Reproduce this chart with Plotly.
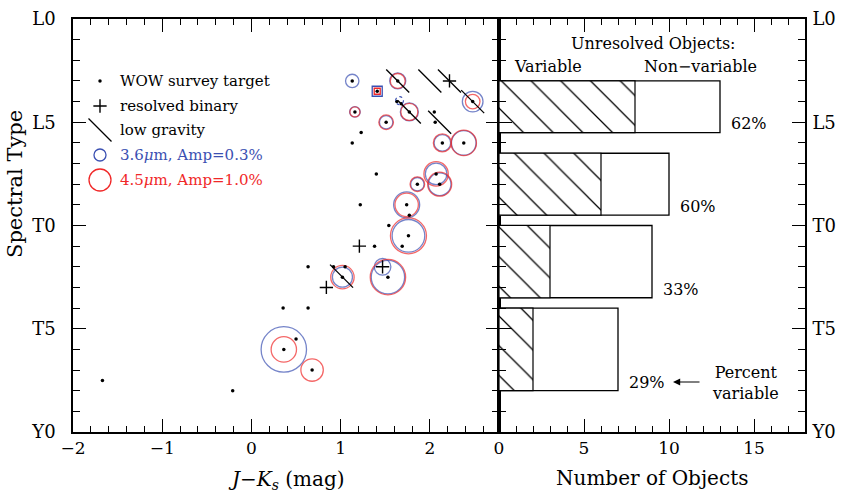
import numpy as np
import plotly.graph_objects as go

W, H = 844, 493

# ---------------- data ----------------
# spectral type as a number: L0=0, L5=5, T0=10, T5=15, Y0=20
spt_tickvals = [0, 5, 10, 15, 20]
spt_ticktext = ["L0", "L5", "T0", "T5", "Y0"]

# every WOW survey target (dots)
target_jk = [1.13, 1.41, 1.64, 2.48, 1.63, 1.68, 1.77, 1.16, 1.51, 2.05, 2.06, 1.23,
             1.13, 2.14, 2.38, 1.40, 2.07, 2.11, 1.86, 1.22, 1.74, 1.77, 1.54, 1.76,
             1.38, 1.69, 0.635, 0.92, 1.05, 1.02, 1.53, 0.355, 0.635, 0.50, 0.363,
             0.68, -1.67, -0.21]
target_spt = [3.0, 3.5, 3.0, 4.0, 4.0, 4.1, 4.5, 4.5, 5.0, 4.5, 5.0, 5.5,
              6.0, 6.0, 6.0, 7.5, 7.5, 8.0, 8.0, 9.0, 9.0, 9.5, 10.0, 10.5,
              11.0, 11.0, 12.0, 12.0, 12.0, 12.5, 12.5, 14.0, 14.0, 15.5, 16.0,
              17.0, 17.5, 18.0]

# variable objects: amplitudes (%) at 3.6 and 4.5 micron (None = not variable)
var_jk = [1.13, 1.64, 2.48, 1.77, 1.16, 1.51, 2.14, 2.38, 2.07, 2.11, 1.86, 1.74,
          1.76, 1.02, 1.47, 1.53, 0.363, 0.68]
var_spt = [3.0, 3.0, 4.0, 4.5, 4.5, 5.0, 6.0, 6.0, 7.5, 8.0, 8.0, 9.0,
           10.5, 12.5, 12.0, 12.5, 16.0, 17.0]
amp36 = [0.37, 0.53, 0.88, 0.67, 0.23, 0.37, 0.57, 1.25, 0.96, 1.06, 0.37, 1.40,
         2.20, 0.83, 0.57, 2.30, 4.26, None]
amp45 = [None, 0.46, 0.44, 0.60, 0.21, 0.44, 0.67, 1.33, 1.23, 1.19, 0.44, 1.13,
         2.68, 1.13, None, 2.59, 1.33, 1.04]

# tentative 3.6 micron detection (dotted circle)
tentative_jk = [1.66]
tentative_spt = [3.95]
tentative_amp36 = [0.13]

# object marked with squares
square_jk = [1.41]
square_spt = [3.5]

# resolved binaries and low-gravity objects
binary_jk = [2.22, 1.21, 1.47, 0.84]
binary_spt = [3.0, 11.0, 12.0, 13.0]
lowg_jk = [1.64, 2.00, 2.22, 2.48, 1.77, 2.11, 1.01]
lowg_spt = [3.0, 3.0, 3.0, 4.0, 4.5, 5.0, 12.45]

# histogram of unresolved objects
bin_top = [3.0, 6.5, 10.0, 14.0]
bin_bottom = [5.5, 9.5, 13.5, 18.0]
n_variable = [8, 6, 3, 2]
n_total = [13, 10, 9, 7]

legend_labels = ["WOW survey target", "resolved binary", "low gravity",
                 "3.6<i>μ</i>m, Amp=0.3%", "4.5<i>μ</i>m, Amp=1.0%"]
legend_amps = [0.3, 1.0]

# ---------------- styling ----------------
BLUE = "#3b50b2"
RED = "#f02828"
FONT = "DejaVu Serif"
AMP_SCALE = 22.0  # marker diameter (px) for 1% amplitude


def diam(a):
    return AMP_SCALE * np.sqrt(a)


# panel geometry (px)
LX0, LX1 = 73, 499
RX0, RX1 = 499, 805
YT, YB = 19, 432
XL_RANGE = [-2, 2.775]
XR_RANGE = [0, 18]
Y_RANGE = [20, 0]


def px_to_x(px):
    return XL_RANGE[0] + (px - LX0) / (LX1 - LX0) * (XL_RANGE[1] - XL_RANGE[0])


def py_to_y(py):
    return Y_RANGE[1] + (py - YT) / (YB - YT) * (Y_RANGE[0] - Y_RANGE[1])


def px_to_x2(px):
    return XR_RANGE[0] + (px - RX0) / (RX1 - RX0) * (XR_RANGE[1] - XR_RANGE[0])


fig = go.Figure()

# circles: blue (3.6) then red (4.5)
b_idx = [i for i, a in enumerate(amp36) if a is not None]
r_idx = [i for i, a in enumerate(amp45) if a is not None]
fig.add_trace(go.Scatter(
    x=[var_jk[i] for i in b_idx], y=[var_spt[i] for i in b_idx], mode="markers",
    marker=dict(symbol="circle-open", size=[diam(amp36[i]) for i in b_idx],
                color=BLUE, line=dict(color=BLUE, width=1.3)),
    hoverinfo="skip"))
fig.add_trace(go.Scatter(
    x=[var_jk[i] for i in r_idx], y=[var_spt[i] for i in r_idx], mode="markers",
    marker=dict(symbol="circle-open", size=[diam(amp45[i]) for i in r_idx],
                color=RED, line=dict(color=RED, width=1.3)),
    hoverinfo="skip"))

# squares
fig.add_trace(go.Scatter(x=square_jk, y=square_spt, mode="markers",
                         marker=dict(symbol="square-open", size=10, color=BLUE,
                                     line=dict(color=BLUE, width=1.3)), hoverinfo="skip"))
fig.add_trace(go.Scatter(x=square_jk, y=square_spt, mode="markers",
                         marker=dict(symbol="square-open", size=6, color=RED,
                                     line=dict(color=RED, width=1.3)), hoverinfo="skip"))

# dots
fig.add_trace(go.Scatter(x=target_jk, y=target_spt, mode="markers",
                         marker=dict(symbol="circle", size=3.5, color="black"),
                         hoverinfo="skip"))
# binaries
fig.add_trace(go.Scatter(x=binary_jk, y=binary_spt, mode="markers",
                         marker=dict(symbol="cross-thin-open", size=9.5, color="black",
                                     line=dict(color="black", width=1.4)), hoverinfo="skip"))
# low gravity
fig.add_trace(go.Scatter(x=lowg_jk, y=lowg_spt, mode="markers",
                         marker=dict(symbol="line-nw-open", size=23, color="black",
                                     line=dict(color="black", width=1.3)), hoverinfo="skip"))

shapes = []
for xj, ys, a in zip(tentative_jk, tentative_spt, tentative_amp36):
    r = diam(a) / 2
    shapes.append(dict(type="circle", xref="x", yref="y", xsizemode="pixel",
                       ysizemode="pixel", xanchor=xj, yanchor=ys,
                       x0=-r, x1=r, y0=-r, y1=r,
                       line=dict(color=BLUE, width=1.2, dash="dot")))

# ---------------- manual legend ----------------
leg_key_x = px_to_x(100)
leg_text_px = 118
leg_rows_py = [81, 106, 130, 155, 180]
leg_y = [py_to_y(p) for p in leg_rows_py]
fig.add_trace(go.Scatter(x=[leg_key_x], y=[leg_y[0]], mode="markers",
                         marker=dict(symbol="circle", size=3.5, color="black"), hoverinfo="skip"))
fig.add_trace(go.Scatter(x=[leg_key_x], y=[leg_y[1]], mode="markers",
                         marker=dict(symbol="cross-thin-open", size=9.5, color="black",
                                     line=dict(color="black", width=1.4)), hoverinfo="skip"))
fig.add_trace(go.Scatter(x=[leg_key_x], y=[leg_y[2]], mode="markers",
                         marker=dict(symbol="line-nw-open", size=23, color="black",
                                     line=dict(color="black", width=1.3)), hoverinfo="skip"))
fig.add_trace(go.Scatter(x=[leg_key_x], y=[leg_y[3]], mode="markers",
                         marker=dict(symbol="circle-open", size=diam(legend_amps[0]), color=BLUE,
                                     line=dict(color=BLUE, width=1.3)), hoverinfo="skip"))
fig.add_trace(go.Scatter(x=[leg_key_x], y=[leg_y[4]], mode="markers",
                         marker=dict(symbol="circle-open", size=diam(legend_amps[1]), color=RED,
                                     line=dict(color=RED, width=1.3)), hoverinfo="skip"))

annotations = []
leg_colors = ["black", "black", "black", BLUE, RED]
for lab, yy, col in zip(legend_labels, leg_y, leg_colors):
    annotations.append(dict(x=px_to_x(leg_text_px), y=yy, xref="x", yref="y", text=lab,
                            showarrow=False, xanchor="left", yanchor="middle",
                            font=dict(family=FONT, size=15, color=col)))

# ---------------- histogram ----------------
centers = [(a + b) / 2 for a, b in zip(bin_top, bin_bottom)]
widths = [b - a for a, b in zip(bin_top, bin_bottom)]
fig.add_trace(go.Bar(orientation="h", y=centers, x=n_total, width=widths, base=0,
                     xaxis="x2", yaxis="y2",
                     marker=dict(color="white", line=dict(color="black", width=1.3)),
                     hoverinfo="skip"))
fig.add_trace(go.Bar(orientation="h", y=centers, x=n_variable, width=widths, base=0,
                     xaxis="x2", yaxis="y2",
                     marker=dict(color="white",
                                 pattern=dict(shape="\\", fgcolor="#000000", bgcolor="white",
                                              fgopacity=1, size=21, solidity=0.06),
                                 line=dict(color="black", width=1.2)),
                     hoverinfo="skip"))

for nv, nt, yb in zip(n_variable, n_total, bin_bottom):
    pct = int(round(100.0 * nv / nt))
    annotations.append(dict(x=nt + 0.5, y=yb - 0.42, xref="x2", yref="y2",
                            text=f"{pct}%", showarrow=False, xanchor="left",
                            yanchor="middle", font=dict(family=FONT, size=16, color="black")))


def text_ann(x, y, text, size=16, **kw):
    d = dict(x=x, y=y, text=text, showarrow=False, xanchor="center", yanchor="middle",
             font=dict(family=FONT, size=size, color="black"))
    d.update(kw)
    return d


annotations.append(text_ann(px_to_x2(653), py_to_y(44), "Unresolved Objects:",
                            xref="x2", yref="y2"))
annotations.append(text_ann(px_to_x2(548), py_to_y(66), "Variable", xref="x2", yref="y2"))
annotations.append(text_ann(px_to_x2(700), py_to_y(66), "Non−variable", xref="x2", yref="y2"))
annotations.append(text_ann(px_to_x2(745), py_to_y(382.5), "Percent<br>variable",
                            xref="x2", yref="y2", align="center"))
# arrow
annotations.append(dict(x=px_to_x2(673), y=py_to_y(382), xref="x2", yref="y2",
                        ax=px_to_x2(701), ay=py_to_y(382), axref="x2", ayref="y2",
                        text="", showarrow=True, arrowhead=2, arrowsize=1.2,
                        arrowwidth=1.2, arrowcolor="black"))

# axis titles
annotations.append(text_ann((LX0 + LX1) / 2 / W, 1 - 480 / H,
                            "<i>J</i>−<i>K</i><sub><i>s</i></sub> (mag)", size=20,
                            xref="paper", yref="paper"))
annotations.append(text_ann((RX0 + RX1) / 2 / W, 1 - 478 / H, "Number of Objects", size=20,
                            xref="paper", yref="paper"))
annotations.append(text_ann(15 / W, 1 - 184 / H, "Spectral Type", size=21,
                            xref="paper", yref="paper", textangle=-90))

ax_common = dict(showline=True, linecolor="black", linewidth=1.6, ticks="inside",
                 tickcolor="black", tickwidth=1.2, mirror="allticks", showgrid=False,
                 zeroline=False, fixedrange=True, automargin=False)
y_dom = [1 - YB / H, 1 - YT / H]

fig.update_layout(
    width=W, height=H, margin=dict(l=0, r=0, t=0, b=0, autoexpand=False),
    paper_bgcolor="white", plot_bgcolor="white", showlegend=False,
    barmode="overlay",
    xaxis=dict(domain=[LX0 / W, LX1 / W], range=XL_RANGE, tickmode="linear", tick0=-2,
               dtick=1, ticklen=13,
               minor=dict(tickmode="linear", tick0=-2, dtick=0.2, ticklen=6, ticks="inside",
                          tickcolor="black", tickwidth=1.2),
               tickfont=dict(family=FONT, size=17, color="black"), anchor="y", **ax_common),
    yaxis=dict(domain=y_dom, range=Y_RANGE, tickmode="array", tickvals=spt_tickvals,
               ticktext=spt_ticktext, ticklen=13, ticklabelstandoff=12,
               minor=dict(tickmode="array", tickvals=list(range(21)), ticklen=7,
                          ticks="inside", tickcolor="black", tickwidth=1.2),
               tickfont=dict(family=FONT, size=18, color="black"), anchor="x", **ax_common),
    xaxis2=dict(domain=[RX0 / W, RX1 / W], range=XR_RANGE, tickmode="linear", tick0=0,
                dtick=5, ticklen=13,
                minor=dict(tickmode="linear", tick0=0, dtick=1, ticklen=6, ticks="inside",
                           tickcolor="black", tickwidth=1.2),
                tickfont=dict(family=FONT, size=17, color="black"), anchor="y2", **ax_common),
    yaxis2=dict(domain=y_dom, range=Y_RANGE, tickmode="array", tickvals=spt_tickvals,
                ticktext=spt_ticktext, ticklen=13, side="right", ticklabelstandoff=2,
                minor=dict(tickmode="array", tickvals=list(range(21)), ticklen=7,
                           ticks="inside", tickcolor="black", tickwidth=1.2),
                tickfont=dict(family=FONT, size=18, color="black"), anchor="x2", **ax_common),
    annotations=annotations, shapes=shapes,
)

fig.write_html("out.html", config={"displayModeBar": False},
               post_script="document.body.style.margin='0px';document.body.style.overflow='hidden';")
